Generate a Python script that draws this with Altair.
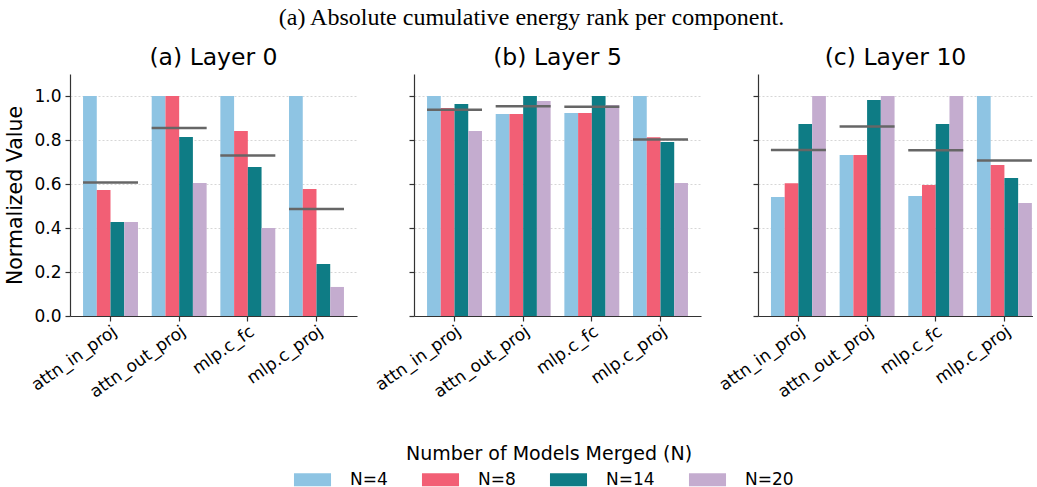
import altair as alt
import pandas as pd

components = ["attn_in_proj", "attn_out_proj", "mlp.c_fc", "mlp.c_proj"]
n_labels = ["N=4", "N=8", "N=14", "N=20"]
layers = ["(a) Layer 0", "(b) Layer 5", "(c) Layer 10"]
colors = ["#8EC4E3", "#F25F75", "#0E7C85", "#C4ACCF"]

# normalized values per component, one list per N (components in order above)
layer0_n4 = [1.000, 1.000, 1.000, 1.000]
layer0_n8 = [0.573, 1.000, 0.841, 0.577]
layer0_n14 = [0.427, 0.814, 0.677, 0.236]
layer0_n20 = [0.427, 0.605, 0.400, 0.132]

layer5_n4 = [1.000, 0.918, 0.923, 1.000]
layer5_n8 = [0.945, 0.918, 0.923, 0.812]
layer5_n14 = [0.964, 1.000, 1.000, 0.791]
layer5_n20 = [0.841, 0.977, 0.959, 0.605]

layer10_n4 = [0.541, 0.732, 0.545, 1.000]
layer10_n8 = [0.603, 0.732, 0.595, 0.686]
layer10_n14 = [0.873, 0.982, 0.873, 0.627]
layer10_n20 = [1.000, 1.000, 1.000, 0.514]

series = {
    layers[0]: [layer0_n4, layer0_n8, layer0_n14, layer0_n20],
    layers[1]: [layer5_n4, layer5_n8, layer5_n14, layer5_n20],
    layers[2]: [layer10_n4, layer10_n8, layer10_n14, layer10_n20],
}

rows = []
for layer, per_n in series.items():
    for n, vals in zip(n_labels, per_n):
        for comp, v in zip(components, vals):
            rows.append({"layer": layer, "n": n, "component": comp, "value": v})
df = pd.DataFrame(rows)

FONT = "DejaVu Sans"

legend = alt.Legend(
    title="Number of Models Merged (N)",
    orient="none",
    direction="horizontal",
    columns=4,
    legendX=234,
    legendY=371,
    titleAnchor="middle",
    titleOrient="top",
    titleFontSize=19,
    titleFontWeight="normal",
    titleFont=FONT,
    titleColor="black",
    titleLimit=500,
    titlePadding=7,
    labelFontSize=17,
    labelFont=FONT,
    labelColor="black",
    labelOffset=29,
    columnPadding=33,
    # wide swatch: a 13px nominal symbol whose path is drawn 37px wide
    symbolType="M-2.85,-1H2.85V1H-2.85Z",
    symbolSize=169,
    symbolStrokeWidth=0,
    symbolOpacity=1,
)


def panel(layer, show_y, width, pad_outer, align):
    base = alt.Chart(df).transform_filter(alt.datum.layer == layer)
    y_axis = alt.Axis(
        values=[0, 0.2, 0.4, 0.6, 0.8, 1.0],
        format=".1f",
        labels=show_y,
        title="Normalized Value" if show_y else None,
        grid=True,
    )
    x_scale = alt.Scale(paddingInner=0.2, paddingOuter=pad_outer, align=align)
    x_axis = alt.Axis(title=None, labelAngle=-35, labelAlign="right",
                      labelBaseline="top")
    y_scale = alt.Scale(domain=[0, 1.1], nice=False)
    bars = base.mark_bar().encode(
        x=alt.X("component:N", sort=components, scale=x_scale, axis=x_axis),
        xOffset=alt.XOffset("n:N", sort=n_labels,
                            scale=alt.Scale(paddingInner=0, paddingOuter=0)),
        y=alt.Y("value:Q", scale=y_scale, axis=y_axis),
        color=alt.Color("n:N", sort=n_labels,
                        scale=alt.Scale(domain=n_labels, range=colors),
                        legend=legend),
    )
    # group mean drawn as a horizontal bar across each component's bars
    means = base.transform_aggregate(
        mean_value="mean(value)", groupby=["component"]
    ).mark_tick(size=55, thickness=2.5, color="#666666", opacity=1).encode(
        x=alt.X("component:N", sort=components, scale=x_scale, axis=x_axis),
        y=alt.Y("mean_value:Q", scale=y_scale, axis=y_axis),
    )
    return alt.layer(bars, means).properties(
        width=width,
        height=242,
        title=alt.TitleParams(layer, font=FONT, fontSize=23.5,
                              fontWeight="normal", color="black", offset=5),
    )


chart = alt.hconcat(
    panel(layers[0], True, 287, 0.19, 0.5),
    panel(layers[1], False, 287, 0.19, 0.5),
    panel(layers[2], False, 275, 0.1026, 0.92),
    spacing=57,
    bounds="flush",
).properties(
    title=alt.TitleParams(
        "(a) Absolute cumulative energy rank per component.",
        font="Liberation Serif", fontSize=24, fontWeight="normal",
        color="black", anchor="middle", dx=12, offset=16,
    ),
    padding={"left": 5, "top": 5, "right": 0, "bottom": 0},
).configure_view(stroke=None).configure_axis(
    labelFont=FONT,
    labelFontSize=17,
    labelColor="black",
    titleFont=FONT,
    titleFontSize=20.5,
    titleFontWeight="normal",
    titleColor="black",
    domainColor="#333333",
    domainWidth=1.2,
    tickColor="#333333",
    tickSize=5,
    tickWidth=1.2,
    gridColor="#cccccc",
    gridDash=[2, 2],
    gridWidth=0.8,
).configure_axisY(
    labelPadding=4,
    titlePadding=8,
)

chart.save("out.html", embed_options={"renderer": "svg", "actions": False})
